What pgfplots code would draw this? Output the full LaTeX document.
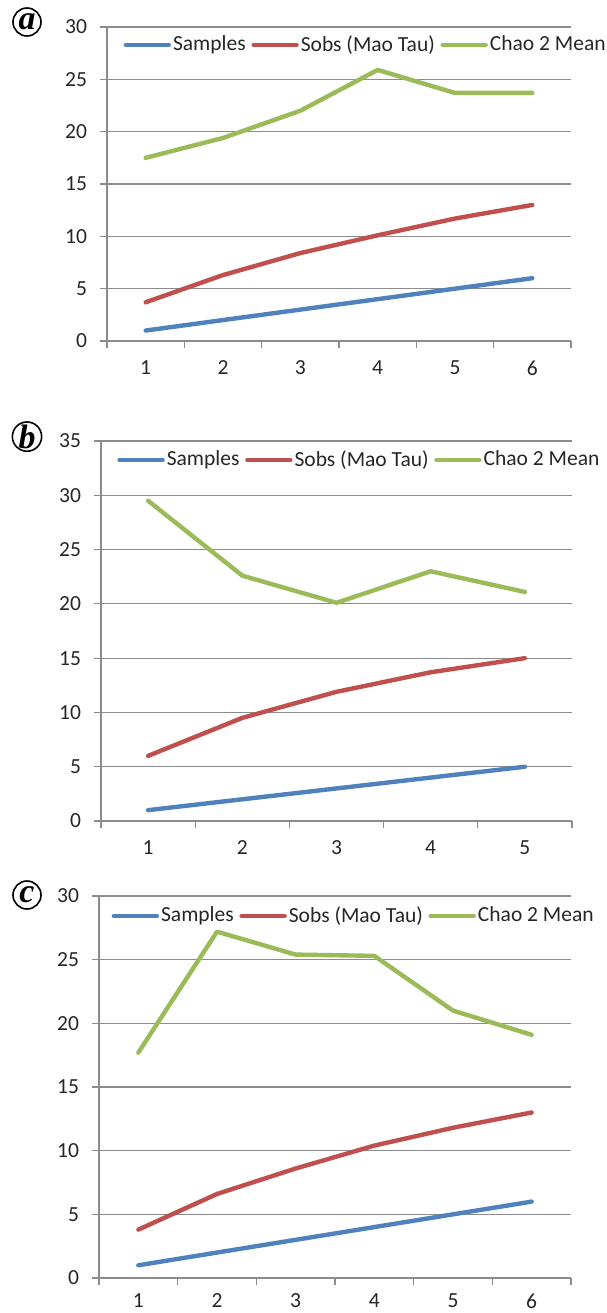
\documentclass[border=0pt]{standalone}
\usepackage{pgfplots}
\pgfplotsset{compat=1.18}
\usepackage{fontspec}
\setmainfont{Carlito}
\newfontfamily\lserif{Liberation Serif}
\definecolor{xblue}{HTML}{4F81BD}
\definecolor{xred}{HTML}{C0504D}
\definecolor{xgreen}{HTML}{9BBB59}
\definecolor{xgrid}{HTML}{8C8C8C}
\pgfplotsset{
  excel/.style={
    scale only axis,
    axis lines=left,
    axis line style={-, draw=xgrid, line width=0.6bp},
    tick pos=left,
    tick align=outside,
    xmin=0.5, ymin=0,
    major tick length=3.5bp,
    minor tick length=3.5bp,
    major x tick style={draw=none},
    minor x tick style={draw=xgrid, line width=0.6bp},
    major y tick style={draw=xgrid, line width=0.6bp},
    ymajorgrids,
    major grid style={draw=xgrid, line width=0.6bp},
    ytick distance=5,
    /pgf/number format/assume math mode=true,
    ticklabel style={font=\fontsize{10.8}{12}\selectfont, text=black!85, inner sep=1bp},
    xticklabel style={yshift=-5.3bp},
    yticklabel style={xshift=-5.3bp},
    legend columns=3,
    legend style={draw=none, fill=none, anchor=west, inner sep=0pt,
      font=\fontsize{10.8}{12}\selectfont,
      nodes={inner sep=1bp, text=black!85},
      /tikz/every even column/.append style={column sep=1.8bp}},
    legend image code/.code={\draw[##1, line width=2.2bp] (0bp,0bp) -- (21.5bp,0bp);},
    every axis plot/.append style={line width=2.2bp, line join=round, line cap=round},
  },
}
\tikzset{
  panel/.style={circle, draw, line width=0.8bp, inner sep=0pt, minimum size=14bp,
    font=\lserif\bfseries\itshape\fontsize{17}{17}\selectfont},
}
\begin{document}
\begin{tikzpicture}
\useasboundingbox (0,0) rectangle (303.5bp,-656.5bp);
% ---------- (a)
\begin{axis}[excel, at={(53.5bp,-170.5bp)}, anchor=south west,
  width=232bp, height=157bp, xmax=6.5, ymax=30,
  xtick={1,...,6}, minor xtick={0.5,1.5,...,6.5},
  legend style={at={(axis description cs:0.035,0.943)}}]
\addplot[xblue] coordinates {(1,1) (2,2) (3,3) (4,4) (5,5) (6,6)};
\addplot[xred] coordinates {(1,3.7) (2,6.3) (3,8.4) (4,10.1) (5,11.7) (6,13.0)};
\addplot[xgreen] coordinates {(1,17.5) (2,19.4) (3,22.0) (4,25.9) (5,23.7) (6,23.7)};
\legend{Samples, Sobs (Mao Tau), Chao 2 Mean}
\end{axis}
\node[panel] at (13.5bp,-11bp) {a};
% ---------- (b)
\begin{axis}[excel, at={(50.5bp,-410.5bp)}, anchor=south west,
  width=235.5bp, height=190bp, xmax=5.5, ymax=35,
  xtick={1,...,5}, minor xtick={0.5,1.5,...,5.5},
  legend style={at={(axis description cs:0.034,0.95)}}]
\addplot[xblue] coordinates {(1,1) (2,2) (3,3) (4,4) (5,5)};
\addplot[xred] coordinates {(1,6.0) (2,9.5) (3,11.9) (4,13.7) (5,15.0)};
\addplot[xgreen] coordinates {(1,29.5) (2,22.6) (3,20.1) (4,23.0) (5,21.1)};
\legend{Samples, Sobs (Mao Tau), Chao 2 Mean}
\end{axis}
\node[panel] at (13.5bp,-218.3bp) {b};
% ---------- (c)
\begin{axis}[excel, at={(49.5bp,-639bp)}, anchor=south west,
  width=236bp, height=191bp, xmax=6.5, ymax=30,
  xtick={1,...,6}, minor xtick={0.5,1.5,...,6.5},
  xticklabel style={yshift=2bp},
  legend style={at={(axis description cs:0.026,0.948)}}]
\addplot[xblue] coordinates {(1,1) (2,2) (3,3) (4,4) (5,5) (6,6)};
\addplot[xred] coordinates {(1,3.8) (2,6.6) (3,8.6) (4,10.4) (5,11.8) (6,13.0)};
\addplot[xgreen] coordinates {(1,17.7) (2,27.2) (3,25.4) (4,25.3) (5,21.0) (6,19.1)};
\legend{Samples, Sobs (Mao Tau), Chao 2 Mean}
\end{axis}
\node[panel] at (13.5bp,-447.5bp) {c};
\end{tikzpicture}
\end{document}
